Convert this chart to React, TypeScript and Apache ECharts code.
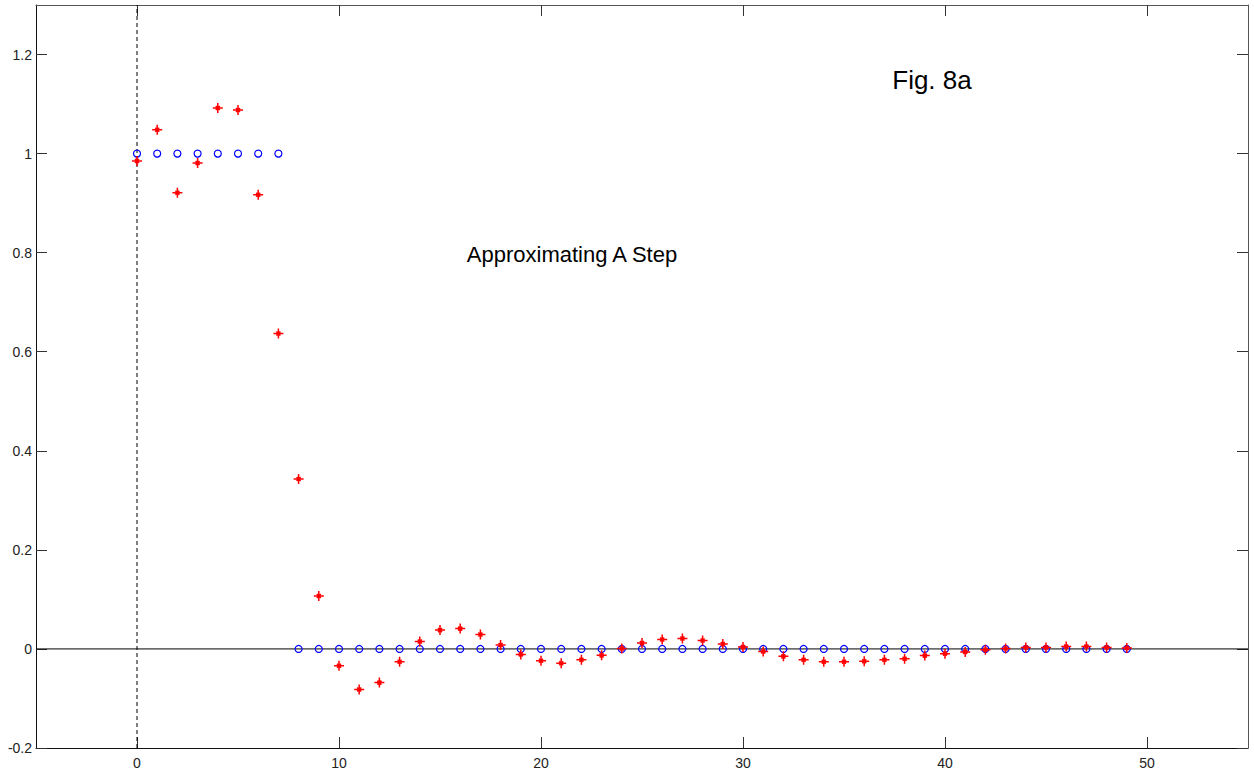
import React, { useEffect, useRef } from "react";
import * as echarts from "echarts";

// Sample index n = 0..49
const sampleIndex: number[] = Array.from({ length: 50 }, (_, i) => i);

// Ideal step: 1 for the first eight samples, 0 afterwards
const stepValues: number[] = [
  1, 1, 1, 1, 1, 1, 1, 1,
  0, 0, 0, 0, 0, 0, 0, 0, 0, 0, 0, 0, 0, 0, 0, 0, 0, 0, 0, 0, 0,
  0, 0, 0, 0, 0, 0, 0, 0, 0, 0, 0, 0, 0, 0, 0, 0, 0, 0, 0, 0, 0,
];

// Approximation of the step
const approxValues: number[] = [
  0.985, 1.048, 0.921, 0.981, 1.092, 1.088, 0.917, 0.637, 0.343, 0.107,
  -0.034, -0.082, -0.068, -0.026, 0.015, 0.038, 0.041, 0.029, 0.008, -0.011,
  -0.024, -0.029, -0.022, -0.013, 0.001, 0.012, 0.019, 0.021, 0.017, 0.01,
  0.004, -0.005, -0.015, -0.022, -0.026, -0.026, -0.025, -0.022, -0.02, -0.0135,
  -0.0095, -0.006, -0.0014, 0.001, 0.003, 0.003, 0.005, 0.005, 0.003, 0.002,
];

const xTicks: number[] = [0, 10, 20, 30, 40, 50];
const yTicks: number[] = [-0.2, 0, 0.2, 0.4, 0.6, 0.8, 1, 1.2];

const X_MIN = -5;
const X_MAX = 55;
const Y_MIN = -0.2;
const Y_MAX = 1.3;

const FONT = "'Liberation Sans', Arial, sans-serif";

// MATLAB-style asterisk marker: a long plus with short diagonal strokes
const ASTERISK =
  "path://M0,5L10,5M5,0L5,10M3,3L7,7M7,3L3,7";

export default function App() {
  const ref = useRef<HTMLDivElement>(null);

  useEffect(() => {
    if (!ref.current) return;
    const chart = echarts.init(ref.current, undefined, { renderer: "svg" });

    const fmtY = (v: number) => String(+Number(v).toFixed(1));

    const baseX = (pos: "bottom" | "top", show: boolean, lineColor: string) => ({
      type: "value" as const,
      position: pos,
      min: X_MIN,
      max: X_MAX,
      splitLine: { show: false },
      axisLine: { show: true, onZero: false, lineStyle: { color: lineColor, width: 1 } },
      axisTick: {
        show: true,
        inside: true,
        length: 11,
        customValues: xTicks,
        lineStyle: { color: "#333", width: 1 },
      },
      axisLabel: {
        show,
        customValues: xTicks,
        margin: 8,
        color: "#222",
        fontSize: 14,
        fontFamily: FONT,
      },
    });

    const baseY = (pos: "left" | "right", show: boolean, lineColor: string) => ({
      type: "value" as const,
      position: pos,
      min: Y_MIN,
      max: Y_MAX,
      splitLine: { show: false },
      axisLine: { show: true, onZero: false, lineStyle: { color: lineColor, width: 1 } },
      axisTick: {
        show: true,
        inside: true,
        length: 11,
        customValues: yTicks,
        lineStyle: { color: "#333", width: 1 },
      },
      axisLabel: {
        show,
        customValues: yTicks,
        margin: 4,
        color: "#222",
        fontSize: 14,
        fontFamily: FONT,
        formatter: fmtY,
      },
    });

    chart.setOption({
      animation: false,
      backgroundColor: "#ffffff",
      grid: { left: 36, right: 6, top: 5, bottom: 27, containLabel: false },
      xAxis: [baseX("bottom", true, "#111"), baseX("top", false, "#555")],
      yAxis: [baseY("left", true, "#111"), baseY("right", false, "#555")],
      series: [
        {
          name: "zero",
          type: "line",
          data: [
            [X_MIN, 0],
            [X_MAX, 0],
          ],
          symbol: "none",
          silent: true,
          lineStyle: { color: "#000", width: 1 },
          z: 1,
        },
        {
          name: "origin",
          type: "line",
          data: [
            [0, Y_MIN],
            [0, Y_MAX],
          ],
          symbol: "none",
          silent: true,
          lineStyle: { color: "#000", width: 1, type: [4, 3] },
          z: 1,
        },
        {
          name: "step",
          type: "scatter",
          data: sampleIndex.map((n, i) => [n, stepValues[i]]),
          symbol: "circle",
          symbolSize: 7,
          itemStyle: {
            color: "rgba(0,0,0,0)",
            borderColor: "#0000ff",
            borderWidth: 1.2,
            opacity: 1,
          },
          z: 2,
        },
        {
          name: "approximation",
          type: "scatter",
          data: sampleIndex.map((n, i) => [n, approxValues[i]]),
          symbol: ASTERISK,
          symbolSize: 10,
          itemStyle: {
            color: "rgba(0,0,0,0)",
            borderColor: "#ff0000",
            borderWidth: 1.5,
            opacity: 1,
          },
          z: 3,
        },
      ],
      graphic: [
        {
          type: "text",
          x: 932,
          y: 80,
          style: {
            text: "Fig. 8a",
            fontSize: 26,
            fontFamily: FONT,
            fill: "#000",
            align: "center",
            verticalAlign: "middle",
          },
        },
        {
          type: "text",
          x: 572,
          y: 254,
          style: {
            text: "Approximating A Step",
            fontSize: 22,
            fontFamily: FONT,
            fill: "#000",
            align: "center",
            verticalAlign: "middle",
          },
        },
      ],
    });

    return () => chart.dispose();
  }, []);

  return (
    <div
      ref={ref}
      style={{ position: "fixed", left: 0, top: 0, width: 1254, height: 775, background: "#fff" }}
    />
  );
}
